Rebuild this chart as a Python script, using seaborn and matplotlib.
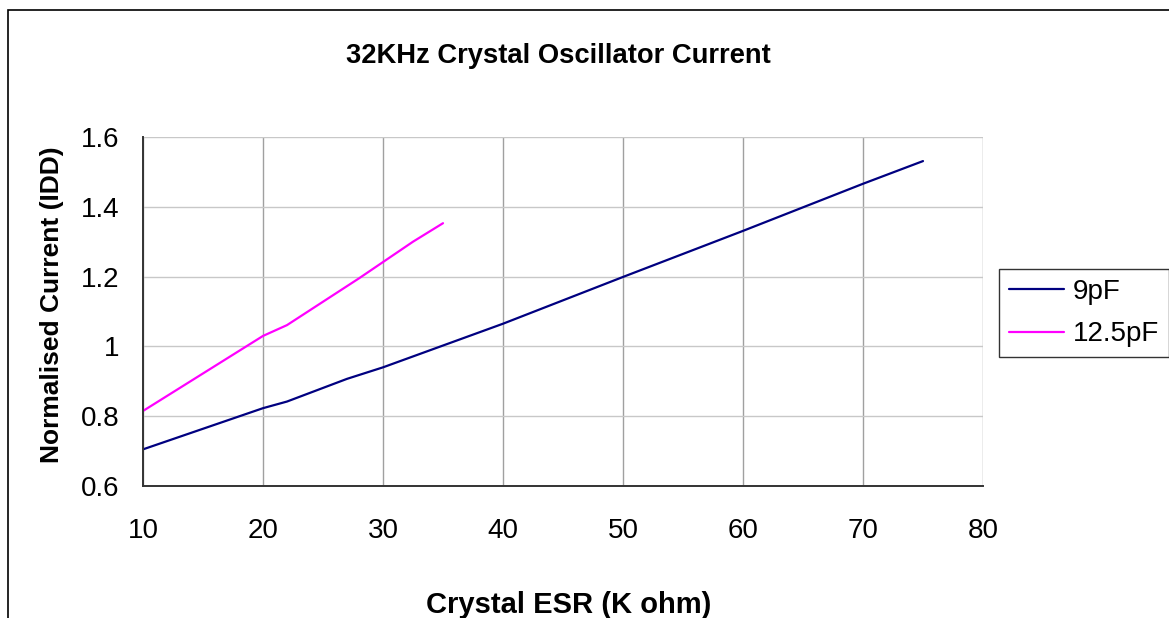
import matplotlib
matplotlib.use("Agg")
import matplotlib.pyplot as plt
import seaborn as sns
import pandas as pd
from matplotlib.patches import Rectangle
from matplotlib.lines import Line2D

# Data
esr_9pf = [10, 20, 22, 27, 30, 40, 50, 60, 70, 75]
cur_9pf = [0.705, 0.823, 0.842, 0.907, 0.940, 1.065, 1.199, 1.331, 1.466, 1.531]
esr_12pf = [10, 20, 22, 28, 32.5, 35]
cur_12pf = [0.815, 1.030, 1.061, 1.195, 1.300, 1.353]
series_names = ["9pF", "12.5pF"]
x_ticks = [10, 20, 30, 40, 50, 60, 70, 80]
y_ticks = [0.6, 0.8, 1.0, 1.2, 1.4, 1.6]
y_tick_labels = ["0.6", "0.8", "1", "1.2", "1.4", "1.6"]

df = pd.concat([
    pd.DataFrame({"esr": esr_9pf, "cur": cur_9pf, "series": series_names[0]}),
    pd.DataFrame({"esr": esr_12pf, "cur": cur_12pf, "series": series_names[1]}),
], ignore_index=True)

sns.set_theme(style="white")
plt.rcParams["font.family"] = ["Liberation Sans", "DejaVu Sans"]
plt.rcParams["text.color"] = "black"

W, H = 1169, 618
fig = plt.figure(figsize=(W / 100, H / 100), dpi=100)
fig.patch.set_facecolor("white")
ax = fig.add_axes([143 / W, 1 - 486 / H, 840 / W, 349 / H])

colors = ["#000080", "#FF00FF"]
sns.lineplot(data=df, x="esr", y="cur", hue="series", palette=colors,
             estimator=None, sort=False, linewidth=1.6, ax=ax, legend=False)

ax.set_xlim(10, 80)
ax.set_ylim(0.6, 1.6)
ax.set_xticks(x_ticks)
ax.set_xticklabels([str(t) for t in x_ticks])
ax.set_yticks(y_ticks)
ax.set_yticklabels(y_tick_labels)
ax.set_xlabel("")
ax.set_ylabel("")

for t in x_ticks:
    ax.axvline(t, color="#a0a0a0", linewidth=1.0, zorder=0)
for t in y_ticks:
    ax.axhline(t, color="#c8c8c8", linewidth=1.0, zorder=0)

for s in ["top", "right"]:
    ax.spines[s].set_visible(False)
for s in ["left", "bottom"]:
    ax.spines[s].set_color("#333333")
    ax.spines[s].set_linewidth(1.4)
ax.tick_params(axis="both", which="major", direction="out", length=7, width=1.2,
               color="#333333", labelsize=20, labelcolor="black")
ax.tick_params(axis="y", pad=10)
ax.tick_params(axis="x", pad=16)

fig.text(558 / W, 1 - 63 / H, "32KHz Crystal Oscillator Current", ha="center", va="baseline",
         fontsize=19.7, fontweight="bold", color="black")
fig.text(569 / W, 1 - 613 / H, "Crystal ESR (K ohm)", ha="center", va="baseline",
         fontsize=21, fontweight="bold", color="black")
fig.text(52 / W, 1 - 305 / H, "Normalised Current (IDD)", ha="center", va="center",
         rotation=90, fontsize=19, fontweight="bold", color="black")

# legend
handles = [Line2D([], [], color=c, lw=1.6) for c in colors]
leg = fig.legend(handles, series_names, loc="upper left",
                 bbox_to_anchor=(999 / W, 1 - 269 / H), fontsize=20, frameon=True,
                 fancybox=False, edgecolor="black", handlelength=2.0, handletextpad=0.3,
                 borderpad=0.35, labelspacing=0.6, borderaxespad=0)
leg.get_frame().set_linewidth(1.0)
for t in leg.get_texts():
    t.set_color("black")

# outer chart frame (top and left visible)
fig.patches.append(Rectangle((8 / W, -0.5), 2.0, 1.5 - 10 / H, transform=fig.transFigure,
                             fill=False, edgecolor="black", linewidth=1.2))

fig.savefig("out.png", dpi=100)
